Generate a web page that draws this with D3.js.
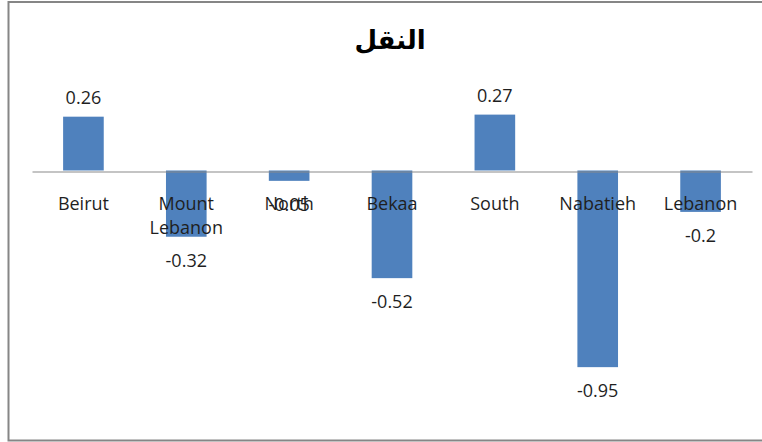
<!DOCTYPE html>
<html>
<head>
<meta charset="utf-8">
<script src="https://cdn.jsdelivr.net/npm/d3@7/dist/d3.min.js"></script>
<style>
  html, body { margin: 0; padding: 0; background: #fff; }
  svg { display: block; }
</style>
</head>
<body>
<svg id="chart" width="762" height="442"></svg>
<script>
const title = "النقل";
const categories = ["Beirut", "Mount Lebanon", "North", "Bekaa", "South", "Nabatieh", "Lebanon"];
const categoryLines = [["Beirut"], ["Mount", "Lebanon"], ["North"], ["Bekaa"], ["South"], ["Nabatieh"], ["Lebanon"]];
const values = [0.26, -0.32, -0.05, -0.52, 0.27, -0.95, -0.2];
const valueLabels = ["0.26", "-0.32", "-0.05", "-0.52", "0.27", "-0.95", "-0.2"];
const yDomain = [-1, 0.5];

const svg = d3.select("#chart");
const W = 762, H = 442;
const font = "'Open Sans', sans-serif";

// chart border (right side clipped off in reference)
svg.append("path")
  .attr("d", `M${W + 2},2 H8.5 V440.5 H${W + 2}`)
  .attr("fill", "none")
  .attr("stroke", "#868686")
  .attr("stroke-width", 2);

const x = d3.scaleBand()
  .domain(categories)
  .range([32, 752])
  .paddingInner(0.605)
  .paddingOuter(0.3025);

const y = d3.scaleLinear()
  .domain(yDomain)
  .range([377.5, 67]);

// bars
svg.append("g").selectAll("rect")
  .data(values)
  .join("rect")
  .attr("x", (d, i) => x(categories[i]))
  .attr("width", x.bandwidth())
  .attr("y", d => y(Math.max(0, d)))
  .attr("height", d => Math.abs(y(d) - y(0)))
  .attr("fill", "#4F81BD");

// zero axis line
const axis = d3.axisBottom(x).tickSize(0).tickFormat("");
const axisG = svg.append("g")
  .attr("transform", `translate(0,${Math.round(y(0)) + 0.5})`)
  .call(axis);
axisG.select(".domain").attr("stroke", "#898989").attr("stroke-width", 1);

// category labels
const catG = svg.append("g");
categoryLines.forEach((lines, i) => {
  const cx = x(categories[i]) + x.bandwidth() / 2;
  const t = catG.append("text")
    .attr("x", cx)
    .attr("y", 203)
    .attr("text-anchor", "middle")
    .attr("dominant-baseline", "central")
    .attr("font-family", font)
    .attr("font-size", "18px")
    .attr("fill", "#1f1f1f");
  lines.forEach((ln, j) => {
    t.append("tspan").attr("x", cx).attr("dy", j === 0 ? 0 : 24).text(ln);
  });
});

// value labels
svg.append("g").selectAll("text")
  .data(values)
  .join("text")
  .attr("x", (d, i) => x(categories[i]) + x.bandwidth() / 2)
  .attr("y", d => d >= 0 ? y(d) - 20 : y(d) + 23)
  .attr("text-anchor", "middle")
  .attr("dominant-baseline", "central")
  .attr("font-family", font)
  .attr("font-size", "18px")
  .attr("fill", "#1f1f1f")
  .text((d, i) => valueLabels[i]);

// title
svg.append("text")
  .attr("x", 390)
  .attr("y", 40)
  .attr("text-anchor", "middle")
  .attr("dominant-baseline", "central")
  .attr("font-family", "'DejaVu Sans', sans-serif")
  .attr("font-weight", "bold")
  .attr("font-size", "26px")
  .attr("fill", "#000")
  .attr("direction", "rtl")
  .text(title);
</script>
</body>
</html>
